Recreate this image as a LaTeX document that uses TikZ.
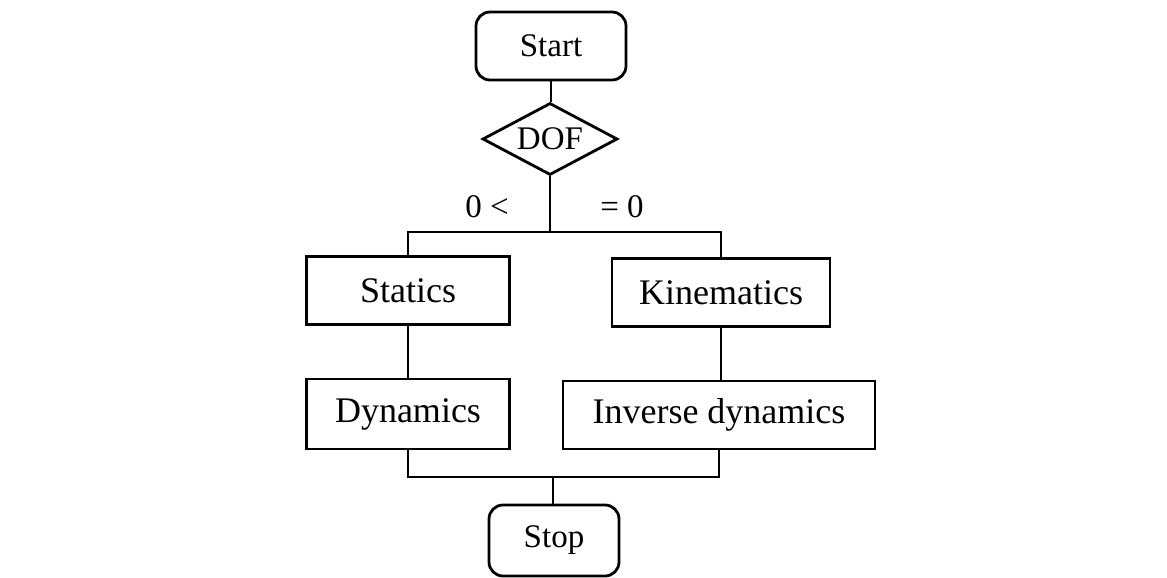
\documentclass[tikz,border=0pt]{standalone}
\usepackage{fontspec}
\setmainfont{Liberation Serif}
\usetikzlibrary{shapes.geometric}
\begin{document}
\begin{tikzpicture}[x=0.5pt,y=-0.5pt,
  line width=1.4pt,
  term/.style={draw,rounded corners=7pt,inner sep=0pt,font=\fontsize{16.5}{18}\selectfont},
  proc/.style={draw,inner sep=0pt,minimum height=34pt,font=\fontsize{18}{20}\selectfont},
  dec/.style={draw,diamond,aspect=1.875,inner sep=0pt,minimum width=67.5pt,minimum height=36pt,font=\fontsize{16.5}{18}\selectfont},
  lbl/.style={inner sep=0pt,font=\fontsize{16.5}{18}\selectfont}]
\useasboundingbox (0,0) rectangle (1167,578);
\node[term,minimum width=75pt,minimum height=34pt] (start) at (551,46) {Start};
\node[dec] (dof) at (550,139) {DOF};
\coordinate (sp) at (550,232);
\node[proc,minimum width=101.5pt] (statics) at (408,290.5) {Statics};
\node[proc,minimum width=109pt] (kin) at (721,292.5) {Kinematics};
\node[proc,minimum width=101.5pt,minimum height=35pt] (dyn) at (408,414) {Dynamics};
\node[proc,minimum width=156pt] (inv) at (719,415) {Inverse dynamics};
\coordinate (jn) at (553,477);
\node[term,minimum width=65pt,minimum height=35.5pt] (stop) at (554,540.5) {Stop};
\node[lbl] (l1) at (487,207) {0 <};
\node[lbl] (l2) at (622,207) {= 0};
\draw (start.south) -- (start.south |- dof.north);
\draw (dof.south) -- (sp);
\draw (statics.north) |- (sp) -| (kin.north);
\draw (statics.south) -- (statics.south |- dyn.north);
\draw (kin.south) -- (kin.south |- inv.north);
\draw (dyn.south) |- (jn) -| (inv.south);
\draw (jn) -- (jn |- stop.north);
\end{tikzpicture}
\end{document}
